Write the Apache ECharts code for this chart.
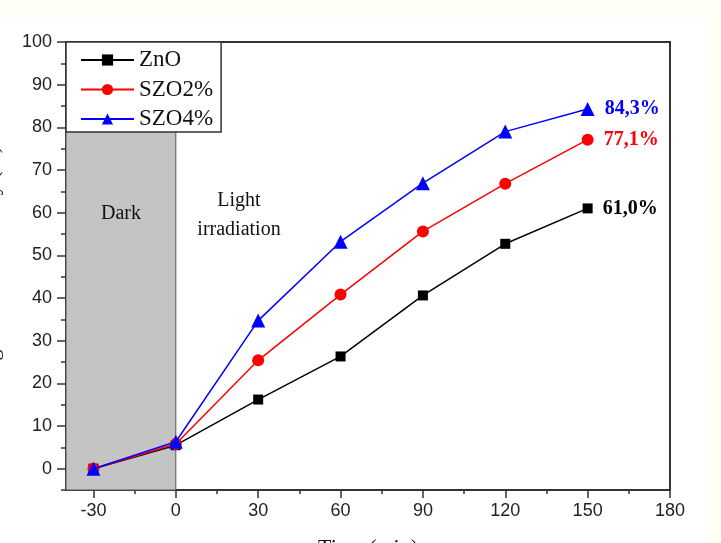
<!DOCTYPE html>
<html>
<head>
<meta charset="utf-8">
<script src="https://cdn.jsdelivr.net/npm/echarts@6/dist/echarts.min.js"></script>
<style>html,body{margin:0;padding:0;background:#fffef4;}#c{width:721px;height:543px;}</style>
</head>
<body>
<div id="c"></div>
<script>
var time = [-30, 0, 30, 60, 90, 120, 150];
var zno = [0, 5.5, 16.2, 26.3, 40.6, 52.7, 61.0];
var szo2 = [0, 5.8, 25.4, 40.8, 55.6, 66.8, 77.1];
var szo4 = [0, 6.3, 34.7, 53.2, 66.9, 79.0, 84.3];
var seriesNames = ['ZnO', 'SZO2%', 'SZO4%'];
var finalLabels = ['61,0%', '77,1%', '84,3%'];
var xMajor = [-30, 0, 30, 60, 90, 120, 150, 180];
var xMinor = [-15, 15, 45, 75, 105, 135, 165];
var yMajor = [0, 10, 20, 30, 40, 50, 60, 70, 80, 90, 100];
var yMinor = [-5, 5, 15, 25, 35, 45, 55, 65, 75, 85, 95];

var serif = '"Liberation Serif", "DejaVu Serif", serif';
var sans = '"Liberation Sans", Arial, sans-serif';
var axisCol = '#333';

function build(vals, idx, color) {
  return vals.map(function (v, i) {
    var d = { value: [time[i], v] };
    if (i === vals.length - 1) {
      d.label = {
        show: true, position: 'right', distance: 10,
        formatter: finalLabels[idx],
        color: color, fontFamily: serif, fontWeight: 'bold', fontSize: 20
      };
    }
    return d;
  });
}

var chart = echarts.init(document.getElementById('c'));
var colors = ['#000000', '#ff0000', '#0000ff'];
var symbols = ['rect', 'circle', 'triangle'];
var sizes = [10, 12, 14];
var dataSets = [zno, szo2, szo4];

var series = dataSets.map(function (vals, i) {
  var s = {
    name: seriesNames[i], type: 'line', xAxisIndex: 0, yAxisIndex: 0,
    data: build(vals, i, colors[i]),
    symbol: symbols[i], symbolSize: sizes[i],
    lineStyle: { color: colors[i], width: 1.5 },
    itemStyle: { color: colors[i] },
    z: 3 + i,
    animation: false
  };
  if (i === 0) {
    s.markArea = {
      silent: true,
      itemStyle: { color: '#c4c4c4', borderColor: '#555', borderWidth: 1 },
      data: [[{ xAxis: -40, yAxis: -5 }, { xAxis: 0, yAxis: 100 }]]
    };
  }
  return s;
});

var option = {
  backgroundColor: '#fffef4',
  animation: false,
  graphic: [
    { type: 'rect', z: -10, silent: true, shape: { x: 0, y: 18, width: 710, height: 525 }, style: { fill: '#ffffff' } },
    { type: 'text', z: 50, x: 121, y: 204, style: { text: 'Dark', font: '20px ' + serif, fill: '#111', align: 'center' } },
    { type: 'text', z: 50, x: 239, y: 186, style: { text: 'Light\nirradiation', font: '20px ' + serif, fill: '#111', align: 'center', lineHeight: 29 } }
  ],
  grid: { left: 66, right: 51, top: 42, bottom: 53, show: true, borderColor: axisCol, borderWidth: 2, backgroundColor: 'transparent', outerBoundsMode: 'none', containLabel: false },
  legend: {
    data: seriesNames,
    orient: 'vertical', left: 66, top: 42,
    backgroundColor: '#ffffff', borderColor: axisCol, borderWidth: 1.5,
    padding: [6, 8, 1, 14],
    itemWidth: 53, itemHeight: 14, itemGap: 5.5,
    textStyle: { fontFamily: serif, fontSize: 23, color: '#111', lineHeight: 24 },
    z: 20
  },
  xAxis: [
    {
      type: 'value', min: -40, max: 180, position: 'bottom',
      name: 'Time (min)', nameLocation: 'middle', nameGap: 47,
      nameTextStyle: { fontFamily: serif, fontSize: 22, color: '#111' },
      axisLine: { show: true, onZero: false, lineStyle: { color: axisCol, width: 2 } },
      axisTick: { show: true, customValues: xMajor, length: 8, lineStyle: { color: axisCol, width: 1.5 } },
      axisLabel: { show: true, customValues: xMajor, fontFamily: sans, fontSize: 18, color: '#222', margin: 12 },
      splitLine: { show: false }
    },
    {
      type: 'value', min: -40, max: 180, position: 'bottom',
      axisLine: { show: false, onZero: false },
      axisTick: { show: true, customValues: xMinor, length: 4, lineStyle: { color: axisCol, width: 1.5 } },
      axisLabel: { show: false },
      splitLine: { show: false }
    }
  ],
  yAxis: [
    {
      type: 'value', min: -5, max: 100, position: 'left',
      name: 'Degradation efficiency (%)', nameLocation: 'middle', nameGap: 63,
      nameTextStyle: { fontFamily: serif, fontSize: 22, color: '#111' },
      axisLine: { show: true, onZero: false, lineStyle: { color: axisCol, width: 2 } },
      axisTick: { show: true, customValues: yMajor, length: 9, lineStyle: { color: axisCol, width: 1.5 } },
      axisLabel: { show: true, customValues: yMajor, fontFamily: sans, fontSize: 18, color: '#222', margin: 14 },
      splitLine: { show: false }
    },
    {
      type: 'value', min: -5, max: 100, position: 'left',
      axisLine: { show: false, onZero: false },
      axisTick: { show: true, customValues: yMinor, length: 5, lineStyle: { color: axisCol, width: 1.5 } },
      axisLabel: { show: false },
      splitLine: { show: false }
    }
  ],
  series: series
};
chart.setOption(option);
</script>
</body>
</html>
